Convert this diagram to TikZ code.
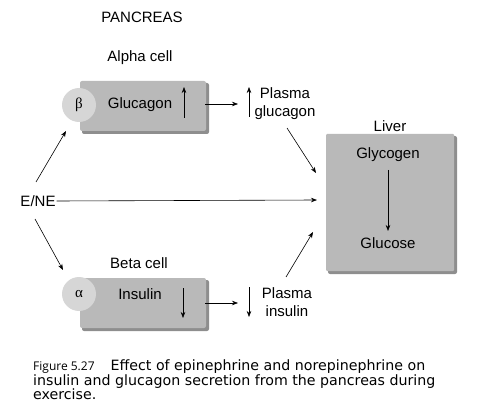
\documentclass[tikz,border=0pt]{standalone}
\usepackage{fontspec}
\setmainfont{Liberation Sans}
\newfontfamily\capfont{DejaVu Sans}
\newfontfamily\figfont{Open Sans}
\newfontfamily\greekfont{Liberation Serif}
\usetikzlibrary{arrows.meta}
\definecolor{boxgray}{HTML}{B9B9B9}
\definecolor{boxdark}{HTML}{8E8E8E}
\definecolor{circgray}{HTML}{D6D6D6}
\tikzset{
  lbl/.style={font=\fontsize{15}{18}\selectfont, inner sep=0pt},
  conn/.style={line width=0.6pt, -{Stealth[length=6pt,width=4.5pt]}},
  cellbox/.style={fill=boxgray, draw=none, rounded corners=2pt},
  shadowbox/.style={fill=boxdark, draw=none, rounded corners=2pt},
  circ/.style={circle, fill=circgray, draw=none, minimum size=34pt, inner sep=0pt, font=\greekfont\fontsize{15}{18}\selectfont},
  capline/.style={anchor=base west, inner sep=0pt, font=\capfont\fontsize{14.2}{15}\selectfont}
}
\begin{document}
\begin{tikzpicture}[x=1pt,y=-1pt]
\useasboundingbox (0,0) rectangle (485,417);
% titles
\node[lbl] (pancreas) at (142,17) {PANCREAS};
\node[lbl] (alphacell) at (140,58) {Alpha cell};
\node[lbl] (betacell) at (139,263) {Beta cell};
\node[lbl] (liverlbl) at (390,126) {Liver};
% alpha box
\fill[shadowbox] (82,83) rectangle (209,134);
\fill[cellbox] (80,81) rectangle (206,131);
\node[circ] (beta) at (79,105) {β};
\node[lbl] (glucagon) at (140,105) {Glucagon};
\coordinate (gupA) at (184,118);
\coordinate (gupB) at (184,87);
\draw[conn] (gupA) -- (gupB);
% beta box
\fill[shadowbox] (82,280) rectangle (209,331);
\fill[cellbox] (80,278) rectangle (206,328);
\node[circ] (alpha) at (79,294) {α};
\node[lbl] (insulin) at (140,294) {Insulin};
\coordinate (idnA) at (183,288);
\coordinate (idnB) at (183,318);
\draw[conn] (idnA) -- (idnB);
% liver
\fill[shadowbox] (328,136) rectangle (457,274);
\fill[cellbox, rounded corners=1pt] (326,134) rectangle (454,271);
\node[lbl] (glycogen) at (388,155) {Glycogen};
\node[lbl] (glucose) at (388,243) {Glucose};
\coordinate (gyA) at (388,170);
\coordinate (gyB) at (388,231);
\draw[conn] (gyA) -- (gyB);
% plasma
\node[lbl, align=center] (pglucagon) at (285,104) {Plasma\\glucagon};
\node[lbl, align=center] (pinsulin) at (287,302) {Plasma\\insulin};
\coordinate (pgupA) at (249,117);
\coordinate (pgupB) at (249,87);
\draw[conn] (pgupA) -- (pgupB);
\coordinate (pidnA) at (249,287);
\coordinate (pidnB) at (249,317);
\draw[conn] (pidnA) -- (pidnB);
% arrows from boxes
\coordinate (aout) at (205,104);
\coordinate (ain) at (238,104);
\draw[conn] (aout) -- (ain);
\coordinate (bout) at (205,303);
\coordinate (bin) at (238,303);
\draw[conn] (bout) -- (bin);
% to liver
\coordinate (pgstart) at (287,128);
\coordinate (lvA) at (316,173);
\draw[conn] (pgstart) -- (lvA);
\coordinate (pistart) at (286,277);
\coordinate (lvC) at (313,232);
\draw[conn] (pistart) -- (lvC);
% E/NE
\node[lbl] (ene) at (38,201) {E/NE};
\coordinate (lvB) at (317,200);
\draw[conn] (ene.east) ++(1,0) coordinate (enestart) (enestart) -- (lvB);
\coordinate (eupA) at (36,182);
\coordinate (eupB) at (66,131);
\draw[conn] (eupA) -- (eupB);
\coordinate (ednA) at (35,219);
\coordinate (ednB) at (63,270);
\draw[conn] (ednA) -- (ednB);
% caption
\node[capline] (cap1) at (33,370) {{\figfont\fontsize{12}{15}\selectfont Figure 5.27}\hspace{16pt}Effect of epinephrine and norepinephrine on};
\node[capline] (cap2) at (33,385) {insulin and glucagon secretion from the pancreas during};
\node[capline] (cap3) at (33,399.5) {exercise.};
\end{tikzpicture}
\end{document}
